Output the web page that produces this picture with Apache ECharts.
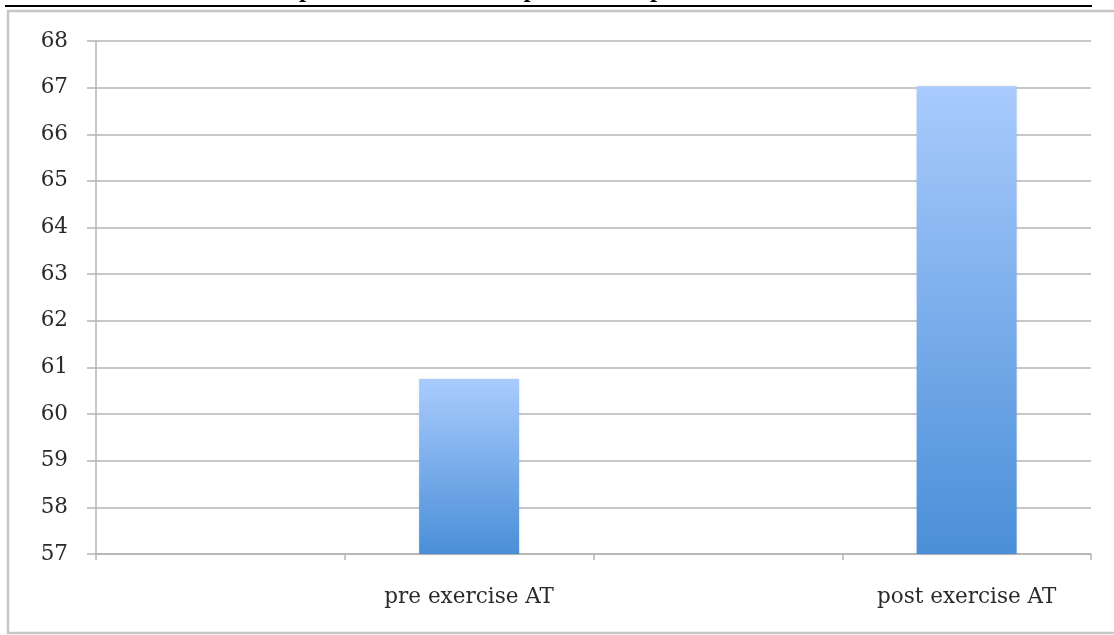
<!DOCTYPE html>
<html>
<head>
<meta charset="utf-8">
<title>AT pre and post exercise</title>
<script src="https://cdn.jsdelivr.net/npm/echarts@6/dist/echarts.min.js"></script>
<style>
  html, body { margin: 0; padding: 0; background: #ffffff; }
  #chart { width: 1114px; height: 635px; }
</style>
</head>
<body>
<div id="chart"></div>
<script>
// Categories: four slots, the measured values sit in the 2nd and 4th
const categories = ['', 'pre exercise AT', '', 'post exercise AT'];
const atValues = [null, 60.75, null, 67.03];
const yMin = 57;
const yMax = 68;
const yStep = 1;
const titleText = 'pre exercise AT compared with post exercise AT';

const chart = echarts.init(document.getElementById('chart'), null, { renderer: 'canvas' });

const serif = '"DejaVu Serif", "Liberation Serif", serif';
const gridColor = '#b4b4b4';
const labelColor = '#2a2a2a';

chart.setOption({
  animation: false,
  backgroundColor: '#ffffff',
  grid: { left: 96, right: 23, top: 41, bottom: 81, containLabel: false },
  graphic: [
    // outer chart frame (its right side runs past the page edge)
    {
      type: 'rect',
      shape: { x: 8, y: 11, width: 1250, height: 622 },
      style: { fill: 'none', stroke: '#c6c6c6', lineWidth: 2.5 },
      z: -1
    },
    // heading rule above the frame
    {
      type: 'line',
      shape: { x1: 5, y1: 6, x2: 1092, y2: 6 },
      style: { stroke: '#000000', lineWidth: 2 }
    },
    // heading, cut off at the top of the page
    {
      type: 'text',
      x: 565,
      y: 3.5,
      style: {
        text: titleText,
        font: 'bold 26px "Liberation Serif", serif',
        fill: '#000000',
        textAlign: 'center',
        textVerticalAlign: 'bottom'
      }
    }
  ],
  xAxis: {
    type: 'category',
    data: categories,
    boundaryGap: true,
    axisLine: { show: true, lineStyle: { color: gridColor, width: 1.5 } },
    axisTick: { show: true, alignWithLabel: false, length: 6, lineStyle: { color: gridColor, width: 1.5 } },
    axisLabel: {
      margin: 32,
      fontFamily: serif,
      fontSize: 21.5,
      color: labelColor,
      interval: 0
    },
    splitLine: { show: false }
  },
  yAxis: {
    type: 'value',
    min: yMin,
    max: yMax,
    interval: yStep,
    axisLine: { show: true, lineStyle: { color: gridColor, width: 1.5 } },
    axisTick: { show: true, inside: false, length: 9, lineStyle: { color: gridColor, width: 1.5 } },
    axisLabel: {
      margin: 28,
      fontFamily: serif,
      fontSize: 21.5,
      color: labelColor
    },
    splitLine: { show: true, lineStyle: { color: gridColor, width: 1.5 } }
  },
  series: [{
    type: 'bar',
    data: atValues,
    barWidth: 100,
    itemStyle: {
      color: new echarts.graphic.LinearGradient(0, 0, 0, 1, [
        { offset: 0, color: '#a9cbfd' },
        { offset: 1, color: '#4a8fd8' }
      ]),
      shadowColor: 'rgba(0,0,0,0.12)',
      shadowBlur: 3
    },
    emphasis: { disabled: true }
  }]
});
</script>
</body>
</html>
